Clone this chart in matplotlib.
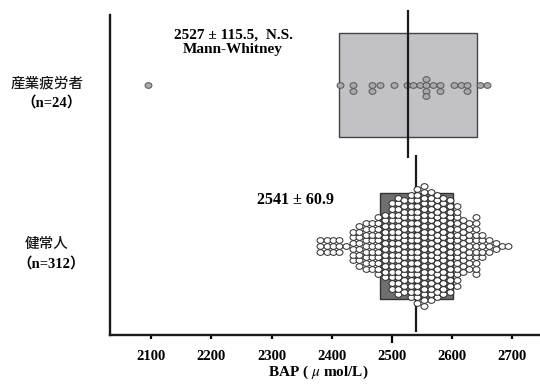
import numpy as np
import matplotlib.pyplot as plt
from matplotlib.markers import MarkerStyle
from matplotlib.transforms import Affine2D

plt.rcParams['font.family'] = ['Liberation Serif', 'Noto Sans CJK JP', 'DejaVu Sans']
plt.rcParams['mathtext.fontset'] = 'stix'

# === データ ===
group_names = ['健常人', '産業疲労者']
group_n = ['（n=312）', '（n=24）']
group_means = [2541, 2527]
group_sds = [60.9, 115.5]
mean_texts = ['2541 ± 60.9', '2527 ± 115.5,  N.S.\nMann-Whitney']

# 健常人: 各列の値と個数
healthy_bins = [2381, 2392, 2403, 2413, 2424, 2435, 2446, 2457, 2467, 2478,
                2489, 2500, 2511, 2521, 2532, 2543, 2554, 2565, 2575, 2586,
                2597, 2608, 2619, 2629, 2640, 2651, 2662, 2673, 2683, 2694]
healthy_counts = [3, 3, 3, 3, 1, 6, 8, 9, 9, 11,
                  12, 16, 18, 17, 19, 21, 22, 20, 19, 18,
                  17, 15, 10, 9, 11, 5, 3, 2, 1, 1]

# 産業疲労者: 個別値
fatigue_bap = [2094, 2414, 2436, 2436, 2468, 2468, 2480, 2504, 2525, 2536,
               2547, 2558, 2558, 2558, 2558, 2569, 2581, 2581, 2604, 2615,
               2626, 2626, 2647, 2658]

x_ticks = [2100, 2200, 2300, 2400, 2500, 2600, 2700]

# ==================== 描画 ====================
fig = plt.figure(figsize=(5.4, 3.85), dpi=100)
ax = fig.add_axes([110 / 540, 50 / 385, 430 / 540, 320 / 385])
ax.set_xlim(2031, 2747)
ax.set_ylim(-0.553, 1.435)

row = 0.0354  # 点の縦間隔
dot = MarkerStyle('o', transform=Affine2D().scale(1.0, 0.82))

# 平均 ± SD の箱
ax.barh([0, 1], [2 * s for s in group_sds],
        left=[m - s for m, s in zip(group_means, group_sds)],
        height=[0.664, 0.652], color=['#6f6f6f', '#c2c2c6'],
        edgecolor=['#333333', '#444444'], linewidth=1.0, zorder=1)

# 平均線
ax.vlines(group_means[0], -0.534, 0.565, color='#1a1a1a', lw=1.6, zorder=2)
ax.vlines(group_means[1], 0.547, 1.466, color='#1a1a1a', lw=1.6, zorder=4,
          clip_on=False)

# 健常人: 対称に積み上げ
hx, hy = [], []
for v, n in zip(healthy_bins, healthy_counts):
    for k in range(n):
        hx.append(v)
        hy.append((k - (n - 1) / 2) * row)
ax.plot(hx, hy, ls='none', marker=dot, ms=5.0, mfc='white', mec='#2a2a2a',
        mew=0.7, zorder=3)

# 産業疲労者: 0, 下, 上, 下... の順に積む
order = [0, -1, 1, -2, 2]
seen = {}
fx, fy = [], []
for v in fatigue_bap:
    k = seen.get(v, 0)
    seen[v] = k + 1
    fx.append(v)
    fy.append(1 + order[k] * row)
ax.plot(fx, fy, ls='none', marker=dot, ms=5.0, mfc='#a9a9a9', mec='#555555',
        mew=0.7, zorder=3)

# 注記
ax.text(2340, 0.286, mean_texts[0], ha='center', va='center',
        fontsize=11.5, fontweight='bold')
ax.text(2236, 1.265, mean_texts[1], ha='center', va='center',
        fontsize=11, fontweight='bold', linespacing=1.2)

# 群ラベル
ytr = ax.get_yaxis_transform()
for yy, name, nn in zip([0, 1], group_names, group_n):
    ax.text(-0.147, yy + 0.012, name, transform=ytr, ha='center',
            va='center', fontsize=10.5, family='Noto Sans CJK JP',
            fontweight='medium', color='#1a1a1a')
    ax.text(-0.137, yy - 0.107, nn, transform=ytr, ha='center',
            va='center', fontsize=10.5, fontweight='bold')

# 軸
for s in ['top', 'right']:
    ax.spines[s].set_visible(False)
for s in ['left', 'bottom']:
    ax.spines[s].set_linewidth(1.7)
    ax.spines[s].set_color('#1a1a1a')
ax.set_yticks([])
ax.set_xticks(x_ticks)
ax.tick_params(axis='x', direction='out', length=3, width=1.6, pad=8,
               labelsize=10.5)
for lab in ax.get_xticklabels():
    lab.set_fontweight('bold')
ax.xaxis.get_major_ticks()[4].tick1line.set_markersize(6)

ax.set_xlabel(r'BAP ( $\mu$ mol/L)', fontsize=11, fontweight='bold')
ax.xaxis.set_label_coords(0.484, -0.09)

fig.savefig('out.png', dpi=100)
